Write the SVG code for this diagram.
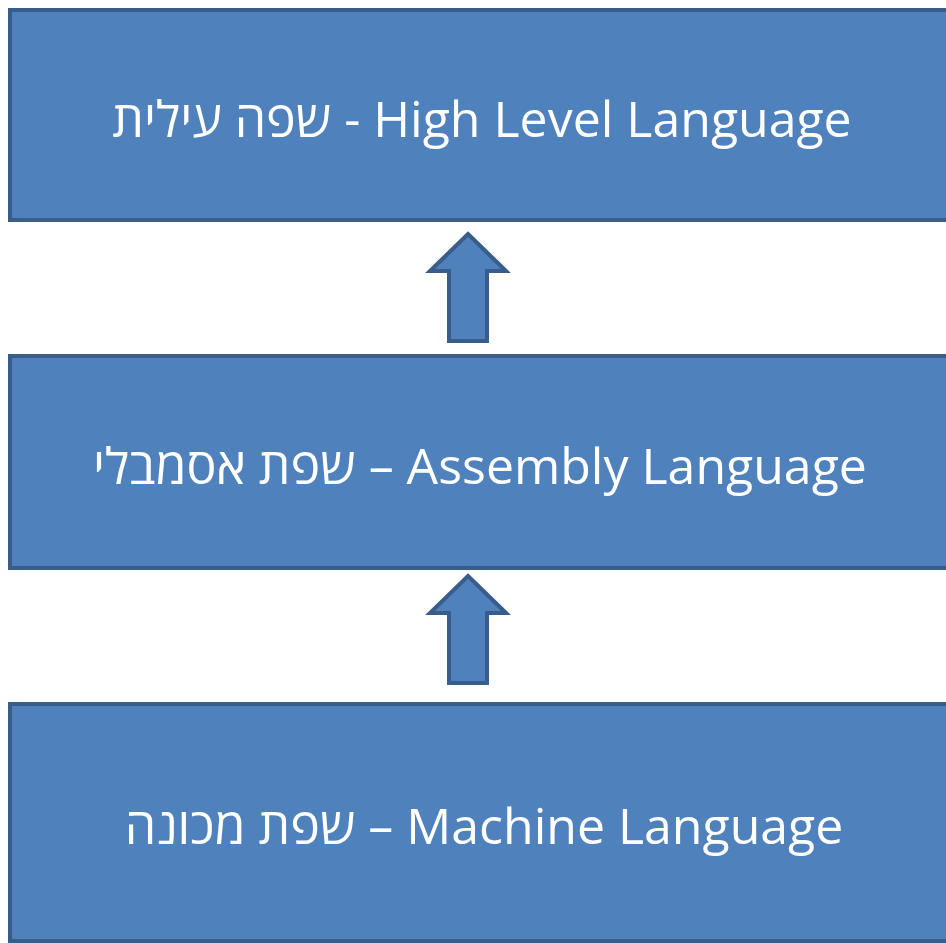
<svg xmlns="http://www.w3.org/2000/svg" width="946" height="943" viewBox="0 0 946 943">
<style>
.box{fill:#4F81BD;stroke:#385D8A;stroke-width:4}
.arrow{fill:#4F81BD;stroke:#385D8A;stroke-width:4;stroke-linejoin:miter}
.lbl{font-family:"Open Sans","DejaVu Sans",sans-serif;font-size:50px;fill:#FFFFFF;text-anchor:middle;direction:ltr}
</style>
<rect x="0" y="0" width="946" height="943" fill="#FFFFFF"/>
<g id="high">
<rect class="box" x="10" y="10" width="950" height="210"/>
<text class="lbl" x="482" y="137">שפה עילית - High Level Language</text>
</g>
<g id="assembly">
<rect class="box" x="10" y="356" width="950" height="212"/>
<text class="lbl" x="480" y="484">שפת אסמבלי – Assembly Language</text>
</g>
<g id="machine">
<rect class="box" x="10" y="704" width="950" height="237"/>
<text class="lbl" x="484" y="844">שפת מכונה – Machine Language</text>
</g>
<g id="connectors">
<polygon class="arrow" points="468,234 506,271 487,271 487,341 449,341 449,271 430,271"/>
<polygon class="arrow" points="468,576 506,613 487,613 487,683 449,683 449,613 430,613"/>
</g>
</svg>
